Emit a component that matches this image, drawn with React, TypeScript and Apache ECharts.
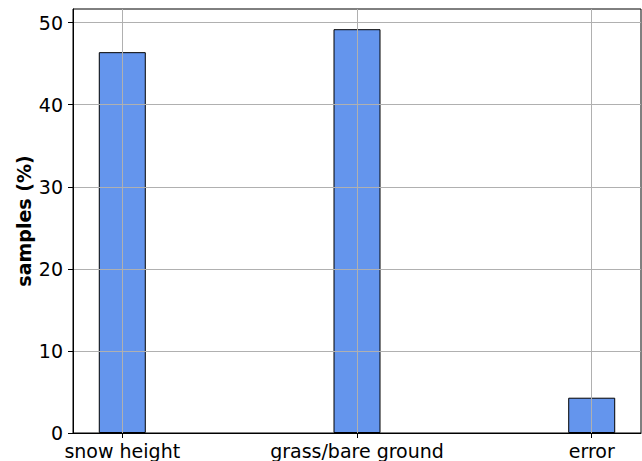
import React, { useEffect, useRef } from "react";
import * as echarts from "echarts";

const categories = ["snow height", "grass/bare ground", "error"];
const samplesPct = [46.4, 49.2, 4.3];
const yTicks = [0, 10, 20, 30, 40, 50];
const xTicks = [0, 1, 2];

export default function App() {
  const ref = useRef<HTMLDivElement>(null);
  useEffect(() => {
    if (!ref.current) return;
    const chart = echarts.init(ref.current, null, { renderer: "svg" });
    const font = "DejaVu Sans";
    chart.setOption({
      animation: false,
      textStyle: { fontFamily: font },
      grid: {
        left: 73,
        right: 1,
        top: 9,
        bottom: 28,
        show: true,
        borderColor: "#000",
        borderWidth: 1,
        containLabel: false,
      },
      xAxis: {
        type: "value",
        min: -0.21,
        max: 2.21,
        z: 3,
        axisLine: { show: true, onZero: false, lineStyle: { color: "#000", width: 1 } },
        axisTick: { show: true, length: 5, customValues: xTicks, lineStyle: { color: "#000" } },
        axisLabel: {
          customValues: xTicks,
          formatter: (v: number) => categories[Math.round(v)] ?? "",
          color: "#000",
          fontSize: 19,
          fontFamily: font,
          margin: 8,
        },
        splitLine: { show: true, lineStyle: { color: "#b0b0b0", width: 1 } },
      },
      yAxis: {
        type: "value",
        min: 0,
        max: 51.66,
        z: 3,
        name: "samples (%)",
        nameLocation: "middle",
        nameGap: 40,
        nameMoveOverlap: false,
        nameTextStyle: { fontWeight: "bold", fontSize: 19, color: "#000", fontFamily: font },
        axisLine: { show: true, onZero: false, lineStyle: { color: "#000", width: 1 } },
        axisTick: { show: true, length: 5, customValues: yTicks, lineStyle: { color: "#000" } },
        axisLabel: { customValues: yTicks, color: "#000", fontSize: 19, fontFamily: font, margin: 10 },
        splitLine: { show: true, lineStyle: { color: "#b0b0b0", width: 1 } },
      },
      series: [
        {
          type: "bar",
          barWidth: 47,
          data: samplesPct.map((v, i) => [i, v]),
          itemStyle: { color: "#6495ED", borderColor: "#000", borderWidth: 1 },
        },
      ],
    });
    return () => chart.dispose();
  }, []);
  return (
    <div
      ref={ref}
      style={{ position: "fixed", left: 0, top: 0, width: 642, height: 461, background: "#fff" }}
    />
  );
}
